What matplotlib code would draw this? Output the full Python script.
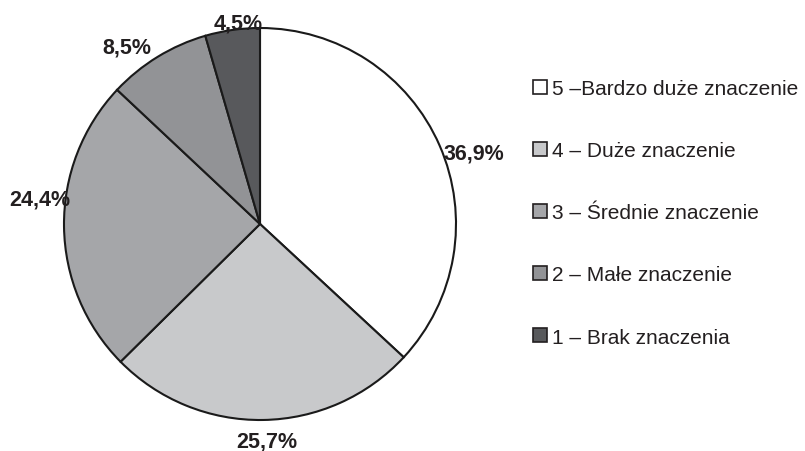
import matplotlib
matplotlib.use("Agg")
import matplotlib.pyplot as plt
from matplotlib.patches import Patch
import numpy as np

categories = ["5 –Bardzo duże znaczenie", "4 – Duże znaczenie", "3 – Średnie znaczenie",
              "2 – Małe znaczenie", "1 – Brak znaczenia"]
values = [36.9, 25.7, 24.4, 8.5, 4.5]
value_labels = ["36,9%", "25,7%", "24,4%", "8,5%", "4,5%"]
colors = ["#ffffff", "#c8c9cb", "#a5a6a9", "#929396", "#58595c"]
label_dist = [1.15, 1.107, 1.13, 1.13, 1.03]
label_ang_shift = [-5.2, 0.9, -7.2, 5.3, -1.9]

plt.rcParams['font.family'] = ['Liberation Sans', 'DejaVu Sans']

W, H = 805, 452
fig = plt.figure(figsize=(W/100, H/100), dpi=100)
cx, cy, R = 260, 225, 196
ax = fig.add_axes([(cx-R)/W, (H-cy-R)/H, 2*R/W, 2*R/H])
wedges, _ = ax.pie(values, colors=colors, startangle=90, counterclock=False,
                   wedgeprops=dict(edgecolor="#1a1a1a", linewidth=1.5))
ax.set_xlim(-1, 1)
ax.set_ylim(-1, 1)
ax.set_aspect('auto')
ax.axis('off')

for w, lab, d, s in zip(wedges, value_labels, label_dist, label_ang_shift):
    ang = np.deg2rad((w.theta1 + w.theta2) / 2 + s)
    ax.text(d*np.cos(ang), d*np.sin(ang), lab, ha='center', va='center',
            fontsize=15.5, fontweight='bold', color='#231f20', clip_on=False)

handles = [Patch(facecolor=c, edgecolor='#231f20', linewidth=1.2) for c in colors]
fig.legend(handles, categories, loc='upper left', bbox_to_anchor=(533/W, 1-80/H),
           frameon=False, fontsize=15, handlelength=0.65, handleheight=0.65,
           handletextpad=0.25, labelspacing=2.07, borderpad=0, borderaxespad=0,
           labelcolor='#231f20')

fig.savefig("out.png", dpi=100)
